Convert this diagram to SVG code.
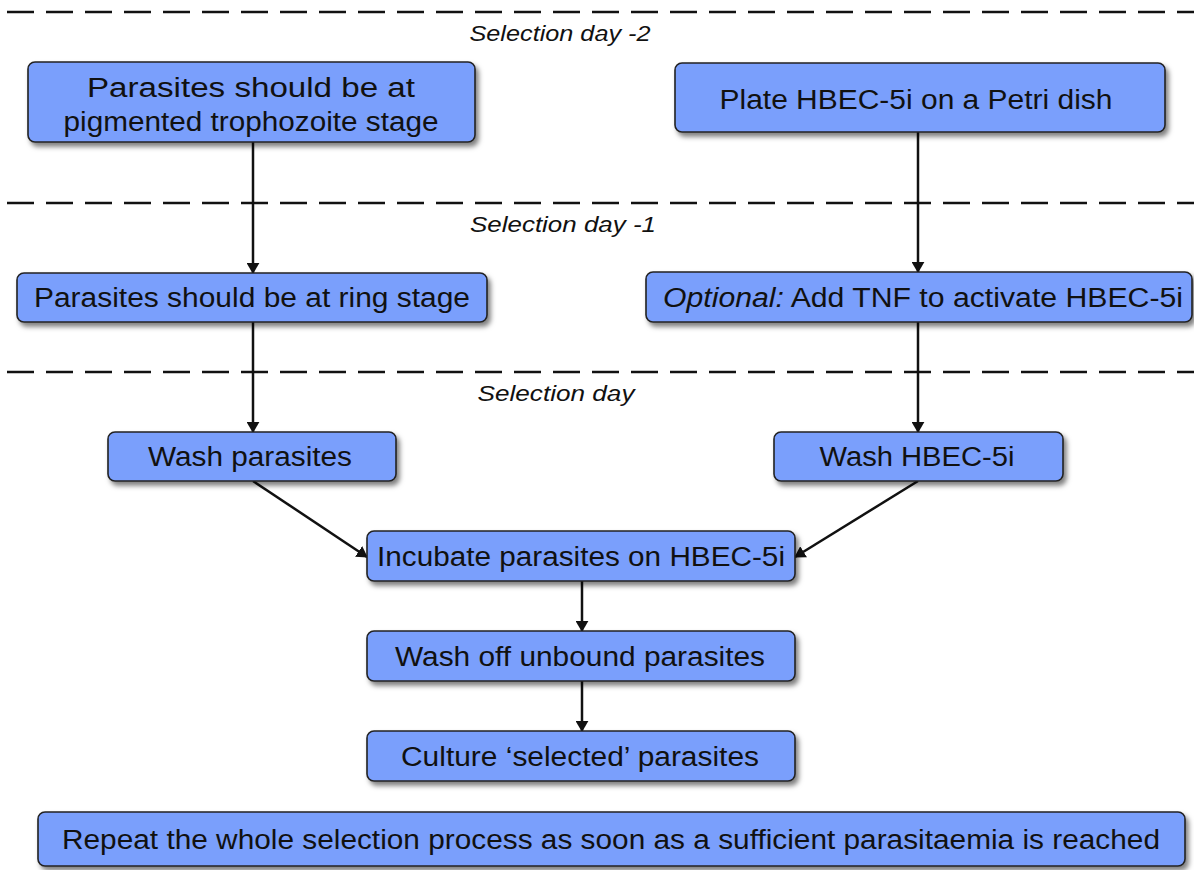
<svg xmlns="http://www.w3.org/2000/svg" width="1194" height="870" viewBox="0 0 1194 870">
<style>
.sep{stroke:#111;stroke-width:2.5;stroke-dasharray:27 12;fill:none}
.lbl{font-family:"Liberation Sans",Arial,sans-serif;font-style:italic;font-size:22px;fill:#111;text-anchor:middle}
.box{fill:#7a9ffc;stroke:#222;stroke-width:1.6;filter:url(#sh)}
.t{font-family:"Liberation Sans",Arial,sans-serif;font-size:27px;fill:#111;text-anchor:middle}
.c{stroke:#111;stroke-width:2.5;fill:none;marker-end:url(#ah)}
</style>
<defs>
<filter id="sh" x="-10%" y="-30%" width="120%" height="170%">
<feDropShadow dx="3" dy="4" stdDeviation="2.5" flood-color="#000" flood-opacity="0.5"/>
</filter>
<marker id="ah" viewBox="0 0 12 14" refX="11" refY="7" markerWidth="11" markerHeight="13" markerUnits="userSpaceOnUse" orient="auto">
<path d="M0,0 L12,7 L0,14 z" fill="#111"/>
</marker>
</defs>
<rect width="1194" height="870" fill="#fff"/>
<g id="separators">
<line class="sep" x1="7" y1="12" x2="1194" y2="12"/>
<line class="sep" x1="7" y1="203" x2="1194" y2="203"/>
<line class="sep" x1="7" y1="372" x2="1194" y2="372"/>
<text class="lbl" x="560" y="41" textLength="181" lengthAdjust="spacingAndGlyphs">Selection day -2</text>
<text class="lbl" x="563" y="232" textLength="186" lengthAdjust="spacingAndGlyphs">Selection day -1</text>
<text class="lbl" x="556" y="401" textLength="157" lengthAdjust="spacingAndGlyphs">Selection day</text>
</g>
<g id="connectors">
<line class="c" x1="253" y1="142" x2="253" y2="273"/>
<line class="c" x1="918" y1="132" x2="918" y2="272"/>
<line class="c" x1="253" y1="322" x2="253" y2="432"/>
<line class="c" x1="918" y1="322" x2="918" y2="432"/>
<line class="c" x1="253" y1="481" x2="367" y2="557"/>
<line class="c" x1="918" y1="481" x2="795" y2="557"/>
<line class="c" x1="582" y1="581" x2="582" y2="631"/>
<line class="c" x1="582" y1="681" x2="582" y2="731"/>
</g>
<g id="n1">
<rect class="box" x="28" y="62" width="447" height="80" rx="7"/>
<text class="t" x="251" y="97" textLength="328" lengthAdjust="spacingAndGlyphs">Parasites should be at</text>
<text class="t" x="251" y="131" textLength="375" lengthAdjust="spacingAndGlyphs">pigmented trophozoite stage</text>
</g>
<g id="n2">
<rect class="box" x="675" y="63" width="490" height="69" rx="7"/>
<text class="t" x="916" y="109" textLength="393" lengthAdjust="spacingAndGlyphs">Plate HBEC-5i on a Petri dish</text>
</g>
<g id="n3">
<rect class="box" x="17" y="273" width="470" height="49" rx="7"/>
<text class="t" x="252" y="307" textLength="436" lengthAdjust="spacingAndGlyphs">Parasites should be at ring stage</text>
</g>
<g id="n4">
<rect class="box" x="646" y="272" width="546" height="50" rx="7"/>
<text class="t" x="923" y="307" textLength="520" lengthAdjust="spacingAndGlyphs"><tspan font-style="italic">Optional:</tspan> Add TNF to activate HBEC-5i</text>
</g>
<g id="n5">
<rect class="box" x="108" y="432" width="288" height="49" rx="7"/>
<text class="t" x="250" y="466" textLength="204" lengthAdjust="spacingAndGlyphs">Wash parasites</text>
</g>
<g id="n6">
<rect class="box" x="774" y="432" width="289" height="49" rx="7"/>
<text class="t" x="917" y="466" textLength="195" lengthAdjust="spacingAndGlyphs">Wash HBEC-5i</text>
</g>
<g id="n7">
<rect class="box" x="367" y="531" width="428" height="50" rx="7"/>
<text class="t" x="581" y="566" textLength="408" lengthAdjust="spacingAndGlyphs">Incubate parasites on HBEC-5i</text>
</g>
<g id="n8">
<rect class="box" x="367" y="631" width="428" height="50" rx="7"/>
<text class="t" x="580" y="666" textLength="370" lengthAdjust="spacingAndGlyphs">Wash off unbound parasites</text>
</g>
<g id="n9">
<rect class="box" x="367" y="731" width="428" height="50" rx="7"/>
<text class="t" x="580" y="766" textLength="358" lengthAdjust="spacingAndGlyphs">Culture ‘selected’ parasites</text>
</g>
<g id="n10">
<rect class="box" x="38" y="812" width="1147" height="54" rx="7"/>
<text class="t" x="611" y="849" textLength="1098" lengthAdjust="spacingAndGlyphs">Repeat the whole selection process as soon as a sufficient parasitaemia is reached</text>
</g>
</svg>
